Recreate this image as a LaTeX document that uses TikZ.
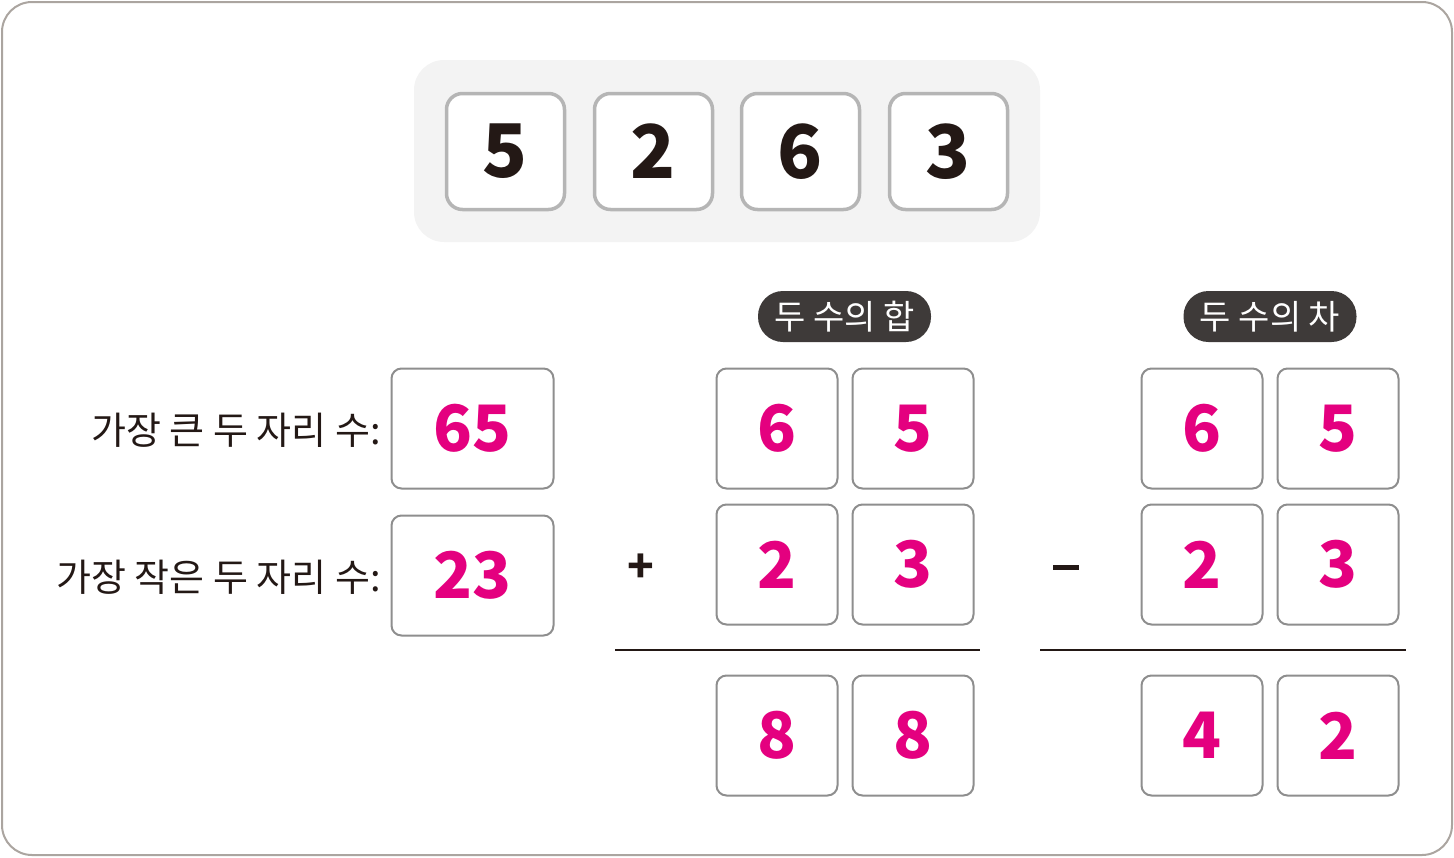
\documentclass[tikz,border=0pt]{standalone}
\usepackage{fontspec}
\setmainfont{Noto Sans CJK KR}
\definecolor{frame}{HTML}{ABA5A0}
\definecolor{panel}{HTML}{F3F3F3}
\definecolor{cardline}{HTML}{B5B5B5}
\definecolor{boxline}{HTML}{8E8E8E}
\definecolor{ink}{HTML}{231815}
\definecolor{pink}{HTML}{E4007F}
\definecolor{pill}{HTML}{3E3A39}
\tikzset{
  card/.style={draw=cardline, line width=3.5pt, fill=white, rounded corners=16pt,
    minimum width=118pt, minimum height=116pt, inner sep=0pt, text=ink,
    font=\fontsize{74}{74}\selectfont\bfseries},
  numbox/.style={draw=boxline, line width=2pt, fill=white, rounded corners=10pt,
    minimum width=121pt, minimum height=120pt, inner sep=0pt, text=pink,
    font=\fontsize{64}{64}\selectfont\bfseries},
  widebox/.style={numbox, minimum width=162pt},
  pilltag/.style={fill=pill, rounded corners=25pt, minimum width=173pt, minimum height=51pt,
    inner sep=0pt, text=white, font=\fontsize{34}{34}\selectfont},
  lbl/.style={anchor=east, text=ink, inner sep=0pt, font=\fontsize{38}{38}\selectfont},
  opsign/.style={text=ink, inner sep=0pt, font=\fontsize{44}{44}\selectfont\bfseries},
  minusbar/.style={fill=ink, minimum width=26pt, minimum height=5pt, inner sep=0pt},
  rule/.style={draw=ink, line width=2.5pt}
}
\begin{document}
\begin{tikzpicture}[x=1pt, y=-1pt]
\useasboundingbox (0,0) rectangle (1454,857);
\draw[frame, line width=2pt, rounded corners=30pt] (2,2) rectangle (1452,855);
\fill[panel, rounded corners=30pt] (414,60) rectangle (1040,242);
\node[card] (c1) at (505.5,151.5) {5};
\node[card] (c2) at (653.5,151.5) {2};
\node[card] (c3) at (800.5,151.5) {6};
\node[card] (c4) at (948.5,151.5) {3};
% left labels
\node[lbl] (l1) at (381,430) {가장 큰 두 자리 수:};
\node[lbl] (l2) at (381,577) {가장 작은 두 자리 수:};
\node[widebox] (big) at (472.5,428.5) {65};
\node[widebox] (small) at (472.5,575.5) {23};
% sum
\node[pilltag] (ps) at (844.5,316.5) {두 수의 합};
\node[numbox] (s11) at (777,428.5) {6};
\node[numbox] (s12) at (913,428.5) {5};
\node[numbox] (s21) at (777,564.5) {2};
\node[numbox] (s22) at (913,564.5) {3};
\node[numbox] (s31) at (777,735.5) {8};
\node[numbox] (s32) at (913,735.5) {8};
\node[opsign] (plus) at (641,568) {+};
\coordinate (sa) at (615,650);
\coordinate (sb) at (980,650);
\draw[rule] (sa) -- (sb);
% difference
\node[pilltag] (pd) at (1270,316.5) {두 수의 차};
\node[numbox] (d11) at (1202,428.5) {6};
\node[numbox] (d12) at (1338,428.5) {5};
\node[numbox] (d21) at (1202,564.5) {2};
\node[numbox] (d22) at (1338,564.5) {3};
\node[numbox] (d31) at (1202,735.5) {4};
\node[numbox] (d32) at (1338,735.5) {2};
\node[minusbar] (minus) at (1066,567) {};
\coordinate (da) at (1040,650);
\coordinate (db) at (1406,650);
\draw[rule] (da) -- (db);
\end{tikzpicture}
\end{document}
